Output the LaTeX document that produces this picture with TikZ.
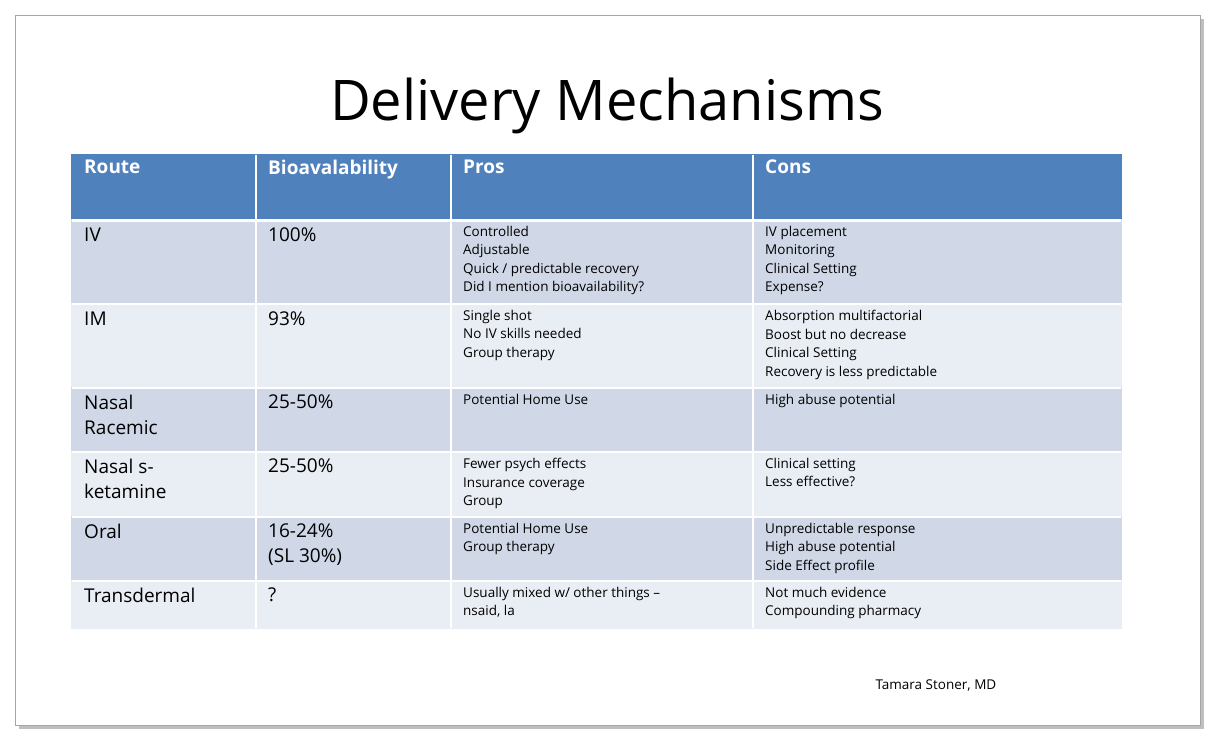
\documentclass[tikz,border=0pt]{standalone}
\usepackage{fontspec}
\setmainfont{Open Sans}
\usetikzlibrary{positioning}
\definecolor{headblue}{HTML}{4F81BD}
\definecolor{rowdark}{HTML}{D0D8E8}
\definecolor{rowlight}{HTML}{E9EDF4}
\tikzset{
  cell/.style={draw=white, line width=1.5pt},
  big/.style={anchor=north west, inner sep=0pt, align=left, font=\fontsize{19}{25}\selectfont},
  small/.style={anchor=north west, inner sep=0pt, align=left, font=\fontsize{13.5}{18.5}\selectfont},
  headtxt/.style={big, text=white, font=\fontsize{19}{25}\selectfont\bfseries}
}
\begin{document}
\begin{tikzpicture}[x=1pt,y=-1pt]
\useasboundingbox (0,0) rectangle (1224,749);
\fill[white] (0,0) rectangle (1224,749);

% --- Slide frame ---
\fill[black!25] (19,19) rectangle (1204,729);
\fill[white,draw=black!35] (15,15) rectangle (1200,725);

% --- Title ---
\node (title) at (607,106) {\fontsize{56}{64}\selectfont Delivery Mechanisms};

% --- Table background ---
\fill[cell,headblue] (72,155) rectangle (1121,220);
\foreach \ya/\yb/\c in {220/304/rowdark, 304/388/rowlight, 388/452/rowdark,
                        452/517/rowlight, 517/581/rowdark, 581/628/rowlight}
  \fill[cell,\c] (72,\ya) rectangle (1121,\yb);
\foreach \x in {256,451,753}
  \draw[white, line width=1.5pt] (\x,155) -- (\x,628);
\foreach \y in {304,388,452,517,581}
  \draw[white, line width=1.5pt] (72,\y) -- (1121,\y);
\draw[white, line width=3pt] (72,220) -- (1121,220);

% --- Header ---
\node[headtxt] (hroute) at (84,160) {Route};
\node[headtxt] (hbio) at (268,160) {Bioavalability};
\node[headtxt] (hpros) at (463,160) {Pros};
\node[headtxt] (hcons) at (765,160) {Cons};

% --- Rows ---
\node[big] (iv) at (84,228) {IV};
\node[big] (ivb) at (268,228) {100\%};
\node[small] (ivp) at (463,226) {Controlled\\Adjustable\\Quick / predictable recovery\\Did I mention bioavailability?};
\node[small] (ivc) at (765,226) {IV placement\\Monitoring\\Clinical Setting\\Expense?};

\node[big] (im) at (84,312) {IM};
\node[big] (imb) at (268,312) {93\%};
\node[small] (imp) at (463,310) {Single shot\\No IV skills needed\\Group therapy};
\node[small] (imc) at (765,310) {Absorption multifactorial\\Boost but no decrease\\Clinical Setting\\Recovery is less predictable};

\node[big] (nr) at (84,395) {Nasal\\Racemic};
\node[big] (nrb) at (268,395) {25-50\%};
\node[small] (nrp) at (463,394) {Potential Home Use};
\node[small] (nrc) at (765,394) {High abuse potential};

\node[big] (ns) at (84,459) {Nasal s-\\ketamine};
\node[big] (nsb) at (268,459) {25-50\%};
\node[small] (nsp) at (463,458) {Fewer psych effects\\Insurance coverage\\Group};
\node[small] (nsc) at (765,458) {Clinical setting\\Less effective?};

\node[big] (oral) at (84,524) {Oral};
\node[big] (oralb) at (268,524) {16-24\%\\(SL 30\%)};
\node[small] (oralp) at (463,523) {Potential Home Use\\Group therapy};
\node[small] (oralc) at (765,523) {Unpredictable response\\High abuse potential\\Side Effect profile};

\node[big] (td) at (84,588) {Transdermal};
\node[big] (tdb) at (268,588) {?};
\node[small] (tdp) at (463,587) {Usually mixed w/ other things --\\nsaid, la};
\node[small] (tdc) at (765,587) {Not much evidence\\Compounding pharmacy};

% --- Credit ---
\node[anchor=west, font=\fontsize{13.5}{17}\selectfont] (credit) at (872,685) {Tamara Stoner, MD};
\end{tikzpicture}
\end{document}
